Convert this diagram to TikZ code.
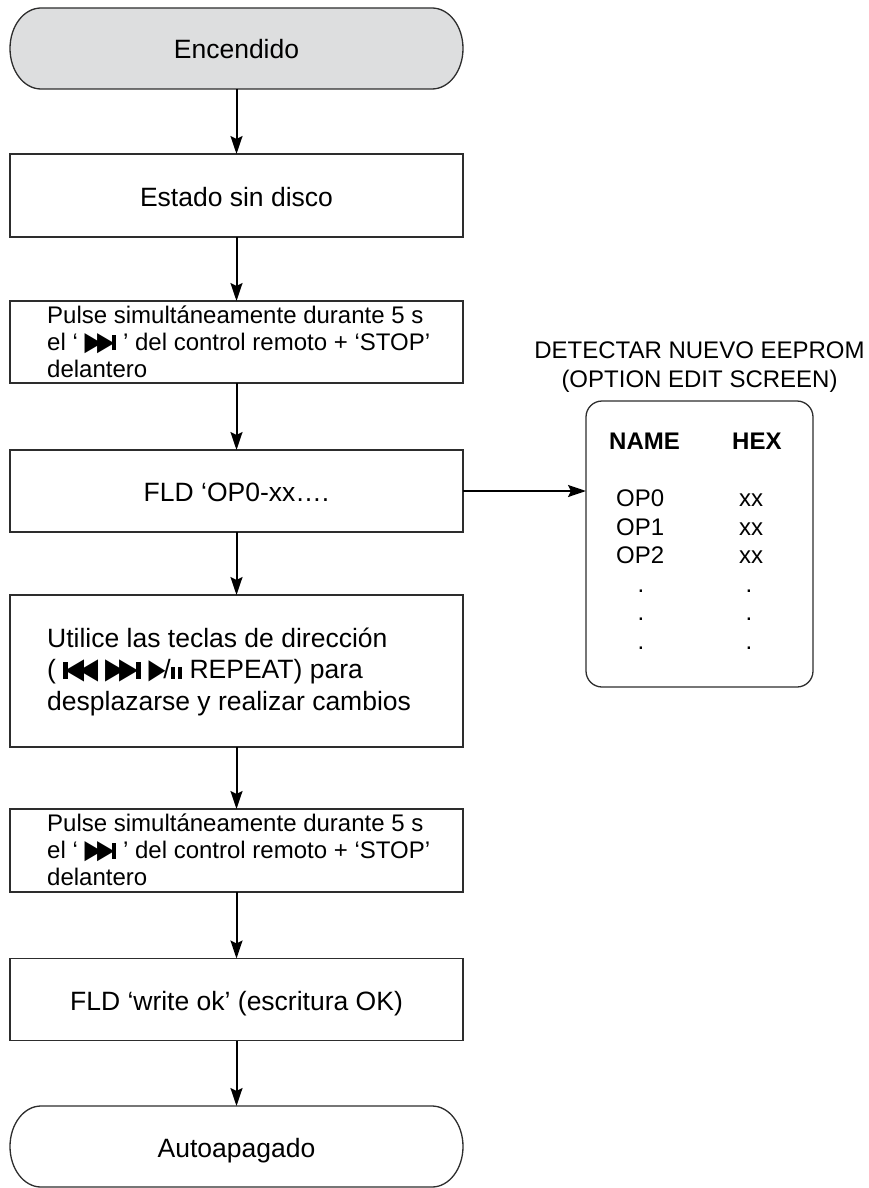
\documentclass[tikz,border=0pt]{standalone}
\usepackage{fontspec}
\usepackage{graphicx}
\setmainfont{Liberation Sans}
\newfontfamily\btnfont{DejaVu Sans}
\usetikzlibrary{arrows.meta,backgrounds}

\definecolor{termfill}{RGB}{221,222,223}
\definecolor{edgegray}{RGB}{45,45,45}

% remote-control key symbols built from triangles and rules
\newcommand\rtri{\resizebox*{0.72em}{0.84em}{\btnfont ▶}}
\newcommand\ltri{\resizebox*{0.72em}{0.84em}{\btnfont ◀}}
\newcommand\keybar{\rule{0.19em}{0.64em}}
\newcommand\nextkey{\mbox{\rtri\kern-0.2em\rtri\kern-0.1em\keybar}}
\newcommand\prevkey{\mbox{\keybar\kern-0.1em\ltri\kern-0.2em\ltri}}
\newcommand\playkey{\mbox{\resizebox*{0.64em}{0.8em}{\btnfont ▶}\kern-0.08em}}
\newcommand\pausekey{\mbox{\rule{0.17em}{0.46em}\kern0.09em\rule{0.17em}{0.46em}}}

\begin{document}
\begin{tikzpicture}[x=1pt,y=-1pt,
  bigtext/.style={font=\fontsize{26.5}{31.5}\selectfont},
  smalltext/.style={font=\fontsize{24}{27}\selectfont},
  boldtext/.style={font=\fontsize{24}{27}\selectfont\bfseries},
  stepbox/.style={draw=edgegray,line width=1.3pt,minimum width=453pt,inner sep=0pt,outer sep=0pt},
  termbox/.style={minimum width=453pt,minimum height=81pt,inner sep=0pt,outer sep=0pt},
  termline/.style={draw=edgegray,line width=1.3pt},
  lifted/.style={text height=21pt,text depth=0pt},
  leftblock/.style={align=left,anchor=west,inner sep=0pt},
  cell/.style={smalltext,anchor=base west,inner sep=0pt},
  dotcell/.style={smalltext,anchor=base,inner sep=0pt},
  arr/.style={draw=black,line width=2pt,-{Stealth[length=18pt,width=12pt,inset=3pt]}}
]
\useasboundingbox (0,0) rectangle (868,1188);

% main flow
\node[termbox,bigtext,lifted] (enc) at (236.5,48.5) {Encendido};
\node[stepbox,minimum height=83pt,bigtext,lifted] (est) at (236.5,195.5) {Estado sin disco};
\node[stepbox,minimum height=82pt] (p1) at (236.5,342) {};
\node[smalltext,leftblock] (p1txt) at (47,341.4)
  {Pulse simultáneamente durante 5 s\\el ‘ \nextkey\ ’ del control remoto + ‘STOP’\\delantero};
\node[stepbox,minimum height=82pt,bigtext,lifted] (fld) at (236.5,491) {FLD ‘OP0-xx….};
\node[stepbox,minimum height=152pt] (util) at (236.5,671) {};
\node[bigtext,leftblock] (utiltxt) at (47,671.7)
  {Utilice las teclas de dirección\\( \prevkey\ \nextkey\ \playkey/\pausekey\ REPEAT) para\\desplazarse y realizar cambios};
\node[stepbox,minimum height=83pt] (p2) at (236.5,850.5) {};
\node[smalltext,leftblock] (p2txt) at (47,849.9)
  {Pulse simultáneamente durante 5 s\\el ‘ \nextkey\ ’ del control remoto + ‘STOP’\\delantero};
\node[stepbox,minimum height=82pt,bigtext,lifted] (wok) at (236.5,999.5) {FLD ‘write ok’ (escritura OK)};
\node[termbox,bigtext,lifted] (off) at (236.5,1146.5) {Autoapagado};

% terminal outlines with elliptical ends
\begin{scope}[on background layer]
\draw[termline,fill=termfill]
  ([xshift=31pt]enc.north west) -- ([xshift=-31pt]enc.north east)
  arc[start angle=90,end angle=-90,x radius=31pt,y radius=40.5pt]
  -- ([xshift=31pt]enc.south west)
  arc[start angle=270,end angle=90,x radius=31pt,y radius=40.5pt] -- cycle;
\draw[termline,fill=white]
  ([xshift=31pt]off.north west) -- ([xshift=-31pt]off.north east)
  arc[start angle=90,end angle=-90,x radius=31pt,y radius=40.5pt]
  -- ([xshift=31pt]off.south west)
  arc[start angle=270,end angle=90,x radius=31pt,y radius=40.5pt] -- cycle;
\end{scope}

% option edit screen
\node[font=\fontsize{24}{29}\selectfont,align=center,inner sep=0pt] (hdr) at (699.5,367.4)
  {DETECTAR NUEVO EEPROM\\(OPTION EDIT SCREEN)};
\node[draw=edgegray,line width=1.3pt,rounded corners=16pt,minimum width=227pt,minimum height=286pt,inner sep=0pt,outer sep=0pt] (scr) at (699.5,544) {};
\node[boldtext,anchor=base west,inner sep=0pt] (colname) at (609,449) {NAME};
\node[boldtext,anchor=base west,inner sep=0pt] (colhex) at (732,449) {HEX};
\node[cell] (op0) at (616,506.7) {OP0};
\node[cell] (op1) at (616,535.2) {OP1};
\node[cell] (op2) at (616,563.7) {OP2};
\node[cell] (hx0) at (739,506.7) {xx};
\node[cell] (hx1) at (739,535.2) {xx};
\node[cell] (hx2) at (739,563.7) {xx};
\node[dotcell] (nd1) at (641,592.2) {.};
\node[dotcell] (nd2) at (641,620.7) {.};
\node[dotcell] (nd3) at (641,649.2) {.};
\node[dotcell] (hd1) at (749,592.2) {.};
\node[dotcell] (hd2) at (749,620.7) {.};
\node[dotcell] (hd3) at (749,649.2) {.};

% connectors
\draw[arr] (enc.south) -- (est.north);
\draw[arr] (est.south) -- (p1.north);
\draw[arr] (p1.south) -- (fld.north);
\draw[arr] (fld.south) -- (util.north);
\draw[arr] (util.south) -- (p2.north);
\draw[arr] (p2.south) -- (wok.north);
\draw[arr] (wok.south) -- (off.north);
\draw[arr] (fld.east) -- (fld.east -| scr.west);
\end{tikzpicture}
\end{document}
